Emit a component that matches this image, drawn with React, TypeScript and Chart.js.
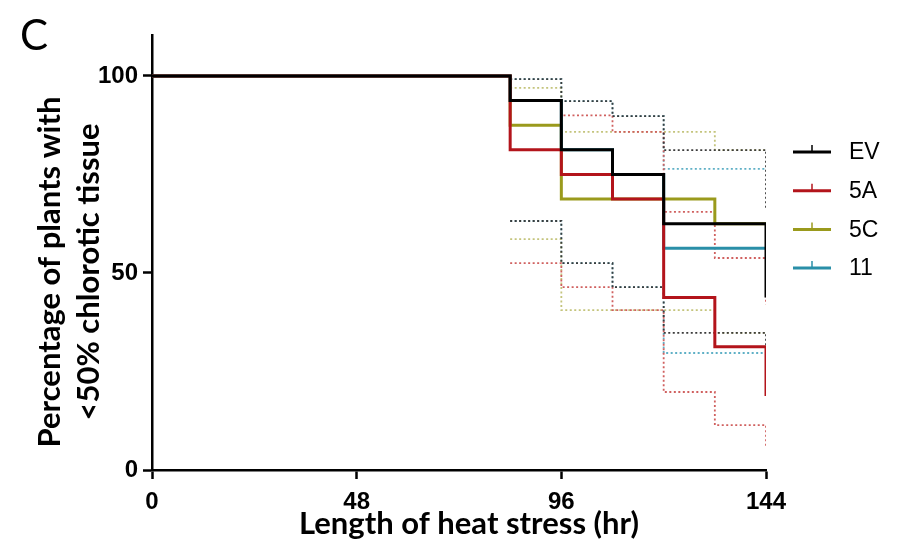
import React, { useEffect, useRef } from 'react';
import { Chart, registerables } from 'chart.js';

Chart.register(...registerables);

// ---- Data ----
const seriesNames = ['EV', '5A', '5C', '11'];
const seriesColors = ['#000000', '#b3141b', '#9a9a1c', '#2a8fa8'];
const ciColors = ['#3c3c3c', '#d0605f', '#c4c47c', '#5fb0c6'];

const xTicks = [0, 48, 96, 144];
const yTicks = [0, 50, 100];
const xTitle = 'Length of heat stress (hr)';
const yTitle = ['Percentage of plants with', '<50% chlorotic tissue'];
const panelLabel = 'C';

// Kaplan-Meier step points: time (hr) and survival (%)
const evTimes = [0, 84, 96, 108, 120, 144];
const evSurv = [100, 93.75, 81.25, 75, 62.5, 43.75];
const a5Times = [0, 84, 96, 108, 120, 132, 144];
const a5Surv = [100, 81.25, 75, 68.75, 43.75, 31.25, 18.75];
const c5Times = [0, 84, 96, 132, 144];
const c5Surv = [100, 87.5, 68.75, 62.5, 62.5];
const l11Times = [0, 84, 96, 108, 120, 144];
const l11Surv = [100, 93.75, 81.25, 75, 56.25, 56.25];

// 95% confidence bands (dotted)
const evCiTimes = [84, 96, 108, 120, 144];
const evUpper = [99.2, 93.6, 89.8, 81.2, 66];
const evLower = [63.2, 52.5, 46.4, 34.8, 20];
const a5CiTimes = [84, 96, 108, 120, 132, 144];
const a5Upper = [93.6, 90, 85.8, 65.5, 53.8, 42];
const a5Lower = [52.5, 46.4, 40.6, 19.8, 11.4, 5.6];
const c5CiTimes = [84, 96, 132, 144];
const c5Upper = [97, 85.8, 81.2, 81.2];
const c5Lower = [58.6, 40.6, 34.8, 34.8];
const l11CiTimes = [84, 96, 108, 120, 144];
const l11Upper = [99.2, 93.6, 89.8, 76.4, 76.4];
const l11Lower = [63.2, 52.5, 46.4, 29.7, 29.7];

const pts = (xs: number[], ys: number[]) => xs.map((x, i) => ({ x, y: ys[i] }));

export default function App() {
  const ref = useRef<HTMLCanvasElement | null>(null);

  useEffect(() => {
    if (!ref.current) return;
    const mainSets = [
      pts(evTimes, evSurv),
      pts(a5Times, a5Surv),
      pts(c5Times, c5Surv),
      pts(l11Times, l11Surv),
    ];
    const mainOrder = [0, 1, 3, 2];
    const ciSets = [
      [pts(evCiTimes, evUpper), pts(evCiTimes, evLower)],
      [pts(a5CiTimes, a5Upper), pts(a5CiTimes, a5Lower)],
      [pts(c5CiTimes, c5Upper), pts(c5CiTimes, c5Lower)],
      [pts(l11CiTimes, l11Upper), pts(l11CiTimes, l11Lower)],
    ];
    const datasets: any[] = mainSets.map((d, i) => ({
      label: seriesNames[i],
      data: d,
      borderColor: seriesColors[i],
      backgroundColor: seriesColors[i],
      borderWidth: 3,
      stepped: 'before',
      pointRadius: 0,
      fill: false,
      order: mainOrder[i],
    }));
    ciSets.forEach((pair, i) => {
      pair.forEach((d, k) => {
        datasets.push({
          label: seriesNames[i] + (k === 0 ? ' upper' : ' lower'),
          data: d,
          borderColor: ciColors[i],
          borderWidth: 1.8,
          borderDash: [2, 2.5],
          stepped: 'before',
          pointRadius: 0,
          fill: false,
          order: 10 + i,
        });
      });
    });

    const annot = {
      id: 'annot',
      afterDraw(chart: any) {
        const ctx = chart.ctx as CanvasRenderingContext2D;
        ctx.save();
        ctx.fillStyle = '#000';
        ctx.textBaseline = 'middle';
        ctx.textAlign = 'left';
        ctx.font = '42px Lato';
        ctx.fillText(panelLabel, 20, 36);
        ctx.textAlign = 'center';
        ctx.font = 'bold 31px Lato';
        ctx.fillText(xTitle, 469, 524);
        ctx.save();
        ctx.translate(70, 272);
        ctx.rotate(-Math.PI / 2);
        ctx.fillText(yTitle[0], 0, -20);
        ctx.fillText(yTitle[1], 0, 19);
        ctx.restore();
        // legend
        const lx = chart.chartArea.right + 27;
        const ly = 152;
        seriesNames.forEach((name, i) => {
          const y = ly + i * 38.7;
          ctx.strokeStyle = seriesColors[i];
          ctx.lineWidth = 3;
          ctx.beginPath();
          ctx.moveTo(lx, y);
          ctx.lineTo(lx + 38, y);
          ctx.stroke();
          ctx.lineWidth = 1.5;
          ctx.beginPath();
          ctx.moveTo(lx + 19, y);
          ctx.lineTo(lx + 19, y - 7);
          ctx.stroke();
          ctx.fillStyle = '#000';
          ctx.textAlign = 'left';
          ctx.font = '23px "Liberation Sans"';
          ctx.fillText(name, lx + 56, y + 1);
        });
        ctx.restore();
      },
    };

    const chart = new Chart(ref.current, {
      type: 'line',
      data: { datasets },
      options: {
        animation: false,
        responsive: false,
        layout: { padding: { left: 0, right: 133, top: 35, bottom: 0 } },
        plugins: { legend: { display: false }, tooltip: { enabled: false } },
        scales: {
          x: {
            type: 'linear',
            min: 0,
            max: 144,
            afterBuildTicks: (s: any) => { s.ticks = xTicks.map((v) => ({ value: v })); },
            afterFit: (s: any) => { s.height = 76; },
            ticks: {
              color: '#000',
              padding: 9,
              font: { family: '"Liberation Sans"', weight: 'bold', size: 24 },
            },
            grid: { drawOnChartArea: false, drawTicks: true, tickLength: 9, tickWidth: 2.5, tickColor: '#000', color: '#000' },
            border: { display: true, color: '#000', width: 2.5 },
          },
          y: {
            type: 'linear',
            min: 0,
            max: 110.4,
            afterBuildTicks: (s: any) => { s.ticks = yTicks.map((v) => ({ value: v })); },
            afterFit: (s: any) => { s.width = 152; },
            ticks: {
              color: '#000',
              padding: 5,
              font: { family: '"Liberation Sans"', weight: 'bold', size: 24 },
            },
            grid: { drawOnChartArea: false, drawTicks: true, tickLength: 9, tickWidth: 2.5, tickColor: '#000', color: '#000' },
            border: { display: true, color: '#000', width: 2.5 },
          },
        },
      } as any,
      plugins: [annot],
    });
    return () => chart.destroy();
  }, []);

  return (
    <div style={{ position: 'fixed', left: 0, top: 0, width: 899, height: 546, background: '#fff' }}>
      <canvas ref={ref} width={899} height={546} style={{ display: 'block' }} />
    </div>
  );
}
